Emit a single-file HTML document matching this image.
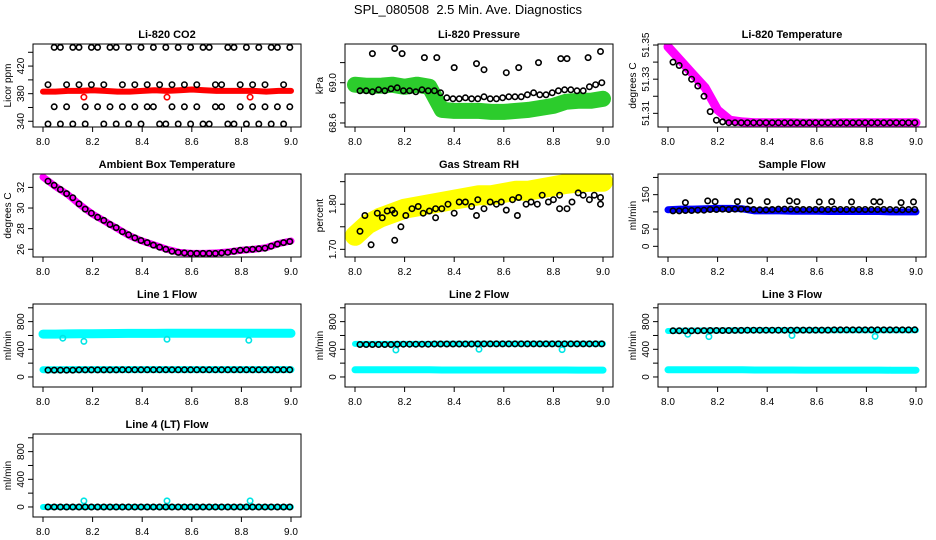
<!DOCTYPE html>
<html><head><meta charset="utf-8"><style>
html,body{margin:0;padding:0;background:#fff;}
svg{display:block;font-family:"Liberation Sans",Arial,sans-serif;}
</style></head><body>
<svg id="chart" width="936" height="540" viewBox="0 0 936 540" xmlns="http://www.w3.org/2000/svg">
<rect x="0" y="0" width="936" height="540" fill="#fff"/>
<text x="468" y="14" font-size="13" text-anchor="middle" style="white-space:pre">SPL_080508&#160; 2.5 Min. Ave. Diagnostics</text>
</svg>
<script>
// ---- shared time arrays ----
const tBand = [8.00,8.05,8.10,8.15,8.20,8.25,8.30,8.35,8.40,8.45,8.50,8.55,8.60,8.65,8.70,8.75,8.80,8.85,8.90,8.95,9.00];
const tPts = [8.02,8.045,8.07,8.095,8.12,8.145,8.17,8.195,8.22,8.245,8.27,8.295,8.32,8.345,8.37,8.395,8.42,8.445,8.47,8.495,8.52,8.545,8.57,8.595,8.62,8.645,8.67,8.695,8.72,8.745,8.77,8.795,8.82,8.845,8.87,8.895,8.92,8.945,8.97,8.995];
const xTicks = [8.0,8.2,8.4,8.6,8.8,9.0];
const xTickLabels = ["8.0","8.2","8.4","8.6","8.8","9.0"];
// ---- CO2 ----
const co2Band = [383,383,384,384,385,384,383,383,384,385,384,385,386,385,384,384,384,384,383,384,384];
const co2A = [336,361,447,393,336,447,361,393,447,336,361,447,393,336,361,447,393,361,336,447,393,336,361,447,393,336,447,361,393,336,447,361,336,393,447,361,336,447,393,361];
const co2B = [393,447,336,361,447,393,336,447,361,393,447,336,361,447,393,336,361,447,393,336,361,447,393,336,361,447,336,393,361,447,336,393,447,361,336,393,447,361,336,447];
const co2OutT = [8.165,8.5,8.835];
const co2OutV = [375,375,375];
// ---- Pressure ----
const presBand = [68.98,68.97,68.97,68.98,68.96,68.98,68.96,68.73,68.72,68.72,68.72,68.71,68.71,68.72,68.73,68.75,68.77,68.81,68.82,68.82,68.84];
const presLow = [68.92,68.92,68.91,68.93,68.92,68.94,68.95,68.92,68.92,68.91,68.93,68.92,68.92,68.90,68.85,68.84,68.84,68.85,68.84,68.84,68.86,68.84,68.84,68.85,68.86,68.86,68.86,68.88,68.90,68.88,68.88,68.90,68.92,68.93,68.93,68.92,68.92,68.96,68.98,69.00];
const presUpT = [8.07,8.16,8.19,8.28,8.33,8.40,8.49,8.52,8.61,8.66,8.74,8.83,8.855,8.94,8.99];
const presUpV = [69.29,69.34,69.29,69.25,69.25,69.15,69.19,69.13,69.10,69.15,69.20,69.24,69.24,69.25,69.31];
// ---- Li-820 Temperature ----
const tempBand = [51.349,51.341,51.333,51.325,51.312,51.306,51.305,51.3045,51.3045,51.3045,51.3045,51.3043,51.3043,51.3043,51.3045,51.3045,51.3045,51.3045,51.3045,51.3045,51.3045];
const tempPts = [51.340,51.338,51.334,51.330,51.326,51.320,51.311,51.306,51.305,51.3045,51.3045,51.3045,51.3045,51.3045,51.3045,51.3045,51.3045,51.3045,51.3045,51.3045,51.3045,51.3045,51.3045,51.3045,51.3045,51.3045,51.3045,51.3045,51.3045,51.3045,51.3045,51.3045,51.3045,51.3045,51.3045,51.3045,51.3045,51.3045,51.3045,51.3045];
// ---- Ambient ----
const ambBand = [33.0,32.1,31.3,30.3,29.4,28.7,28.0,27.3,26.8,26.4,26.0,25.7,25.6,25.6,25.65,25.75,25.9,26.0,26.15,26.55,26.8];
const ambPts = [32.6,32.2,31.8,31.4,31.0,30.4,29.9,29.5,29.1,28.8,28.4,28.1,27.7,27.4,27.1,26.85,26.65,26.4,26.2,26.0,25.8,25.7,25.65,25.6,25.6,25.6,25.6,25.6,25.65,25.7,25.8,25.9,25.95,26.0,26.05,26.1,26.3,26.5,26.65,26.75];
// ---- Gas stream RH ----
const rhBand = [1.73,1.755,1.77,1.78,1.79,1.795,1.80,1.805,1.81,1.815,1.82,1.82,1.825,1.83,1.83,1.835,1.84,1.845,1.848,1.85,1.85];
const rhT = [8.02,8.04,8.065,8.09,8.11,8.13,8.15,8.16,8.16,8.185,8.205,8.23,8.255,8.275,8.30,8.325,8.325,8.35,8.375,8.40,8.42,8.445,8.47,8.49,8.495,8.52,8.545,8.57,8.59,8.61,8.635,8.655,8.66,8.69,8.71,8.735,8.755,8.78,8.80,8.825,8.825,8.855,8.875,8.90,8.92,8.945,8.965,8.99,8.99];
const rhV = [1.74,1.775,1.71,1.78,1.77,1.785,1.787,1.72,1.78,1.75,1.775,1.79,1.795,1.78,1.785,1.77,1.79,1.79,1.80,1.78,1.805,1.805,1.795,1.775,1.81,1.79,1.805,1.80,1.805,1.787,1.81,1.775,1.815,1.80,1.805,1.80,1.82,1.805,1.81,1.79,1.82,1.79,1.805,1.825,1.82,1.81,1.82,1.80,1.815];
// ---- Sample flow ----
const sfBand = [106,108,108,109,110,110,109,103,103,103,102,102,102,101,101,101,101,101,100,100,100];
const sfPts = [103,103,104,104,105,105,107,107,108,107,108,108,108,107,106,106,107,108,108,108,107,107,107,107,107,107,108,107,107,107,107,107,107,107,107,107,106,106,107,107];
const sfUpT = [8.07,8.16,8.19,8.28,8.33,8.40,8.49,8.52,8.61,8.66,8.74,8.83,8.855,8.94,8.99];
const sfUpV = [127,132,130,130,132,130,132,130,129,130,129,130,129,127,129];
// ---- Line flows ----
const l1Top = [620,620,622,624,625,627,628,630,630,630,631,631,632,632,632,632,632,632,632,632,632];
const l1Bot = [105,105,106,106,106,106,106,106,106,106,106,106,106,106,106,106,106,106,106,106,106];
const l1Pts = [100,100,100,100,100,102,102,102,102,102,102,102,104,104,104,104,104,104,104,104,104,104,104,104,104,104,104,104,104,104,104,104,104,104,104,104,104,104,104,104];
const l1OutT = [8.08,8.165,8.5,8.83];
const l1OutV = [560,515,545,530];
const l2Top = [478,478,478,478,478,478,478,480,480,480,480,480,480,480,480,480,480,480,480,480,480];
const l2Bot = [104,104,104,104,104,104,104,101,101,101,101,101,101,101,101,101,101,101,100,100,100];
const l2Pts = [470,470,470,470,470,470,472,474,474,474,474,474,476,476,476,476,476,476,476,478,478,478,478,478,478,478,478,478,478,478,478,478,478,478,478,478,478,478,478,478];
const l2OutT = [8.165,8.5,8.835];
const l2OutV = [390,400,395];
const l3Top = [665,668,670,672,672,674,674,676,676,676,676,676,676,676,676,676,676,676,676,676,676];
const l3Bot = [104,104,104,104,104,104,104,101,101,101,101,100,100,100,100,100,100,100,98,98,98];
const l3Pts = [668,668,668,668,668,670,672,672,672,672,674,674,676,676,676,676,676,676,676,676,678,678,678,678,678,678,680,680,680,680,680,680,680,680,680,680,680,680,680,682];
const l3OutT = [8.08,8.165,8.5,8.835];
const l3OutV = [617,583,599,587];
const l4Band = [0,0,0,0,0,0,0,0,0,0,0,0,0,0,0,0,0,0,0,0,0];
const l4Pts = [0,0,0,0,0,0,0,0,0,0,0,0,0,0,0,0,0,0,0,0,0,0,0,0,0,0,0,0,0,0,0,0,0,0,0,0,0,0,0,0];
const l4OutT = [8.165,8.5,8.835];
const l4OutV = [88,88,88];
// ---- axis tick arrays ----
const co2Ticks = [340,360,380,400,420,440], co2Labels = ["340","","380","","420",""];
const presTicks = [68.6,68.8,69.0,69.2], presLabels = ["68.6","","69.0",""];
const tempTicks = [51.31,51.32,51.33,51.34,51.35], tempLabels = ["51.31","","51.33","","51.35"];
const ambTicks = [26,28,30,32], ambLabels = ["26","28","30","32"];
const rhTicks = [1.70,1.75,1.80,1.85], rhLabels = ["1.70","","1.80",""];
const sfTicks = [0,50,100,150,200], sfLabels = ["0","50","","150",""];
const flowTicks = [0,200,400,600,800,1000], flowLabels = ["0","","400","","800",""];

const NS = "http://www.w3.org/2000/svg";
const svg = document.getElementById('chart');
const colLeft = [33,345,658], rowTop = [44,174,304,434], W = 268, H = 83;
function mk(tag, attrs, parent){const e=document.createElementNS(NS,tag);for(const k in attrs)e.setAttribute(k,attrs[k]);(parent||svg).appendChild(e);return e;}

function panel(cfg){
  const L = colLeft[cfg.col], T = rowTop[cfg.row];
  const g = mk('g',{});
  
  
  const xs = v => L + 10 + (v - 8.0) * 248;
  const ys = v => T + H - (v - cfg.ymin) / (cfg.ymax - cfg.ymin) * H;
  const clip = 'clip-' + cfg.name;
  const cp = mk('clipPath',{id:clip},g); mk('rect',{x:L,y:T,width:W,height:H},cp);
  const plot = mk('g',{'clip-path':'url(#'+clip+')'},g);
  cfg.bands.forEach(b=>{
    const pts = b.t.map((t,i)=>xs(t).toFixed(1)+','+ys(b.v[i]).toFixed(1)).join(' ');
    const pl = mk('polyline',{points:pts,fill:'none',stroke:b.color,'stroke-width':b.w,'stroke-linejoin':'round','stroke-linecap':'round'},plot);
    
    
  });
  cfg.points.forEach(p=>{
    p.t.forEach((t,i)=>{
      const c = mk('circle',{cx:xs(t).toFixed(1),cy:ys(p.v[i]).toFixed(1),r:2.7,fill:'none',stroke:p.color,'stroke-width':1.6},plot);
      
      
    });
  });
  const box = mk('rect',{x:L,y:T,width:W,height:H,fill:'none',stroke:'#000','stroke-width':1},g);
  
  
  xTicks.forEach((v,i)=>{
    mk('line',{x1:xs(v),x2:xs(v),y1:T+H,y2:T+H+5,stroke:'#000'},g);
    const tx = mk('text',{x:xs(v),y:T+H+18,'font-size':10,'text-anchor':'middle'},g);
    tx.textContent = xTickLabels[i];
    
    
  });
  cfg.ticks.forEach((v,i)=>{
    mk('line',{x1:L-5,x2:L,y1:ys(v),y2:ys(v),stroke:'#000'},g);
    if(cfg.labels[i]){
      const tx = mk('text',{x:L-9,y:ys(v),'font-size':10,'text-anchor':'middle',transform:'rotate(-90 '+(L-9)+' '+ys(v)+')'},g);
      tx.textContent = cfg.labels[i];
      
      
    }
  });
  const yt = mk('text',{x:L-22,y:T+H/2,'font-size':10,'text-anchor':'middle',transform:'rotate(-90 '+(L-22)+' '+(T+H/2)+')'},g);
  yt.textContent = cfg.ylab;
  
  
  const tt = mk('text',{x:L+W/2,y:T-6,'font-size':11,'font-weight':'bold','text-anchor':'middle'},g);
  tt.textContent = cfg.title;
  
  
}

panel({name:'co2-panel',col:0,row:0,title:'Li-820 CO2',ylab:'Licor ppm',ymin:331.7,ymax:452,ticks:co2Ticks,labels:co2Labels,
  bands:[{name:'co2-band',t:tBand,v:co2Band,color:'#ff0000',w:6}],
  points:[{name:'co2-outlier',t:co2OutT,v:co2OutV,color:'#ff0000'},{name:'co2-point',t:tPts,v:co2A,color:'#000'},{name:'co2-point',t:tPts,v:co2B,color:'#000'}]});
panel({name:'pressure-panel',col:1,row:0,title:'Li-820 Pressure',ylab:'kPa',ymin:68.56,ymax:69.385,ticks:presTicks,labels:presLabels,
  bands:[{name:'pressure-band',t:tBand,v:presBand,color:'#2ccc2c',w:16}],
  points:[{name:'pressure-point',t:tPts,v:presLow,color:'#000'},{name:'pressure-point',t:presUpT,v:presUpV,color:'#000'}]});
panel({name:'temperature-panel',col:2,row:0,title:'Li-820 Temperature',ylab:'degrees C',ymin:51.302,ymax:51.3506,ticks:tempTicks,labels:tempLabels,
  bands:[{name:'temperature-band',t:tBand,v:tempBand,color:'#ff00ff',w:9}],
  points:[{name:'temperature-point',t:tPts,v:tempPts,color:'#000'}]});
panel({name:'ambient-panel',col:0,row:1,title:'Ambient Box Temperature',ylab:'degrees C',ymin:25.25,ymax:33.3,ticks:ambTicks,labels:ambLabels,
  bands:[{name:'ambient-band',t:tBand,v:ambBand,color:'#ff00ff',w:7}],
  points:[{name:'ambient-point',t:tPts,v:ambPts,color:'#000'}]});
panel({name:'rh-panel',col:1,row:1,title:'Gas Stream RH',ylab:'percent',ymin:1.683,ymax:1.867,ticks:rhTicks,labels:rhLabels,
  bands:[{name:'rh-band',t:tBand,v:rhBand,color:'#ffff00',w:20}],
  points:[{name:'rh-point',t:rhT,v:rhV,color:'#000'}]});
panel({name:'sample-flow-panel',col:2,row:1,title:'Sample Flow',ylab:'ml/min',ymin:-31,ymax:210,ticks:sfTicks,labels:sfLabels,
  bands:[{name:'sample-flow-band',t:tBand,v:sfBand,color:'#0000ff',w:7}],
  points:[{name:'sample-flow-point',t:tPts,v:sfPts,color:'#000'},{name:'sample-flow-point',t:sfUpT,v:sfUpV,color:'#000'}]});
panel({name:'line1-panel',col:0,row:2,title:'Line 1 Flow',ylab:'ml/min',ymin:-145,ymax:1055,ticks:flowTicks,labels:flowLabels,
  bands:[{name:'line1-top-band',t:tBand,v:l1Top,color:'#00ffff',w:9},{name:'line1-bottom-band',t:tBand,v:l1Bot,color:'#00ffff',w:7}],
  points:[{name:'line1-outlier',t:l1OutT,v:l1OutV,color:'#00e5e5'},{name:'line1-point',t:tPts,v:l1Pts,color:'#000'}]});
panel({name:'line2-panel',col:1,row:2,title:'Line 2 Flow',ylab:'ml/min',ymin:-145,ymax:1055,ticks:flowTicks,labels:flowLabels,
  bands:[{name:'line2-top-band',t:tBand,v:l2Top,color:'#00ffff',w:6},{name:'line2-bottom-band',t:tBand,v:l2Bot,color:'#00ffff',w:7}],
  points:[{name:'line2-outlier',t:l2OutT,v:l2OutV,color:'#00e5e5'},{name:'line2-point',t:tPts,v:l2Pts,color:'#000'}]});
panel({name:'line3-panel',col:2,row:2,title:'Line 3 Flow',ylab:'ml/min',ymin:-145,ymax:1055,ticks:flowTicks,labels:flowLabels,
  bands:[{name:'line3-top-band',t:tBand,v:l3Top,color:'#00ffff',w:6},{name:'line3-bottom-band',t:tBand,v:l3Bot,color:'#00ffff',w:7}],
  points:[{name:'line3-outlier',t:l3OutT,v:l3OutV,color:'#00e5e5'},{name:'line3-point',t:tPts,v:l3Pts,color:'#000'}]});
panel({name:'line4-panel',col:0,row:3,title:'Line 4 (LT) Flow',ylab:'ml/min',ymin:-145,ymax:1055,ticks:flowTicks,labels:flowLabels,
  bands:[{name:'line4-band',t:tBand,v:l4Band,color:'#00ffff',w:6}],
  points:[{name:'line4-outlier',t:l4OutT,v:l4OutV,color:'#00e5e5'},{name:'line4-point',t:tPts,v:l4Pts,color:'#000'}]});
</script>
</body></html>
